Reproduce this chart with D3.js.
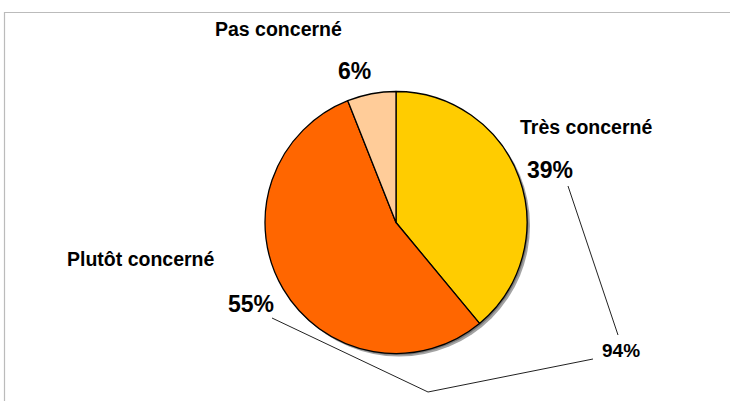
<!DOCTYPE html>
<html>
<head>
<meta charset="utf-8">
<script src="https://cdn.jsdelivr.net/npm/d3@7"></script>
<style>
  html, body { margin: 0; padding: 0; background: #fff; }
  svg { display: block; }
  text { font-family: "Liberation Sans", Arial, sans-serif; font-weight: bold; fill: #000; }
</style>
</head>
<body>
<svg id="chart" width="730" height="401"></svg>
<script>
// Data
const categories = ["Très concerné", "Plutôt concerné", "Pas concerné"];
const values = [39, 55, 6];
const colors = ["#FFCC00", "#FF6600", "#FFCC99"];
const summedCategories = ["Très concerné", "Plutôt concerné"];

const svg = d3.select("#chart");
const W = 730, H = 401;

// frame (left & top border)
svg.append("path")
  .attr("d", `M4.5,${H} L4.5,12.5 L${W},12.5`)
  .attr("fill", "none").attr("stroke", "#bbbbbb").attr("stroke-width", 1.2);

const cx = 396, cy = 222.5, r = 131;
const pie = d3.pie().sort(null).value(d => d.value);
const arcs = pie(categories.map((c, i) => ({ cat: c, value: values[i], color: colors[i] })));
const arc = d3.arc().innerRadius(0).outerRadius(r);

const g = svg.append("g").attr("transform", `translate(${cx},${cy})`);
// shadow
g.append("circle").attr("cx", 3).attr("cy", 3).attr("r", r).attr("fill", "#8c8c8c").attr("opacity", 0.8);
g.append("circle").attr("cx", 1.5).attr("cy", 1.5).attr("r", r).attr("fill", "#777");

g.selectAll("path.slice").data(arcs).enter().append("path")
  .attr("class", "slice")
  .attr("d", arc)
  .attr("fill", d => d.data.color)
  .attr("stroke", "#000")
  .attr("stroke-width", 1.3)
  .attr("stroke-linejoin", "round");

// labels (layout positions)
const labelPos = {
  "Très concerné": { name: [520, 134], pct: [527, 178] },
  "Plutôt concerné": { name: [67, 266], pct: [228, 312] },
  "Pas concerné": { name: [215, 36], pct: [338, 79] }
};
arcs.forEach(a => {
  const p = labelPos[a.data.cat];
  svg.append("text").attr("x", p.name[0]).attr("y", p.name[1])
    .attr("font-size", 19.5).text(a.data.cat);
  svg.append("text").attr("x", p.pct[0]).attr("y", p.pct[1])
    .attr("font-size", 23).text(d3.format("d")(a.data.value) + "%");
});

// sum label with connector lines
const total = d3.sum(categories.map((c, i) => summedCategories.includes(c) ? values[i] : 0));
svg.append("text").attr("x", 602).attr("y", 357).attr("font-size", 19).text(total + "%");

const line = d3.line();
svg.append("path").attr("d", line([[568, 186], [618, 335]]))
  .attr("fill", "none").attr("stroke", "#222").attr("stroke-width", 1);
svg.append("path").attr("d", line([[272, 318], [428, 392], [593, 359]]))
  .attr("fill", "none").attr("stroke", "#222").attr("stroke-width", 1);
</script>
</body>
</html>
